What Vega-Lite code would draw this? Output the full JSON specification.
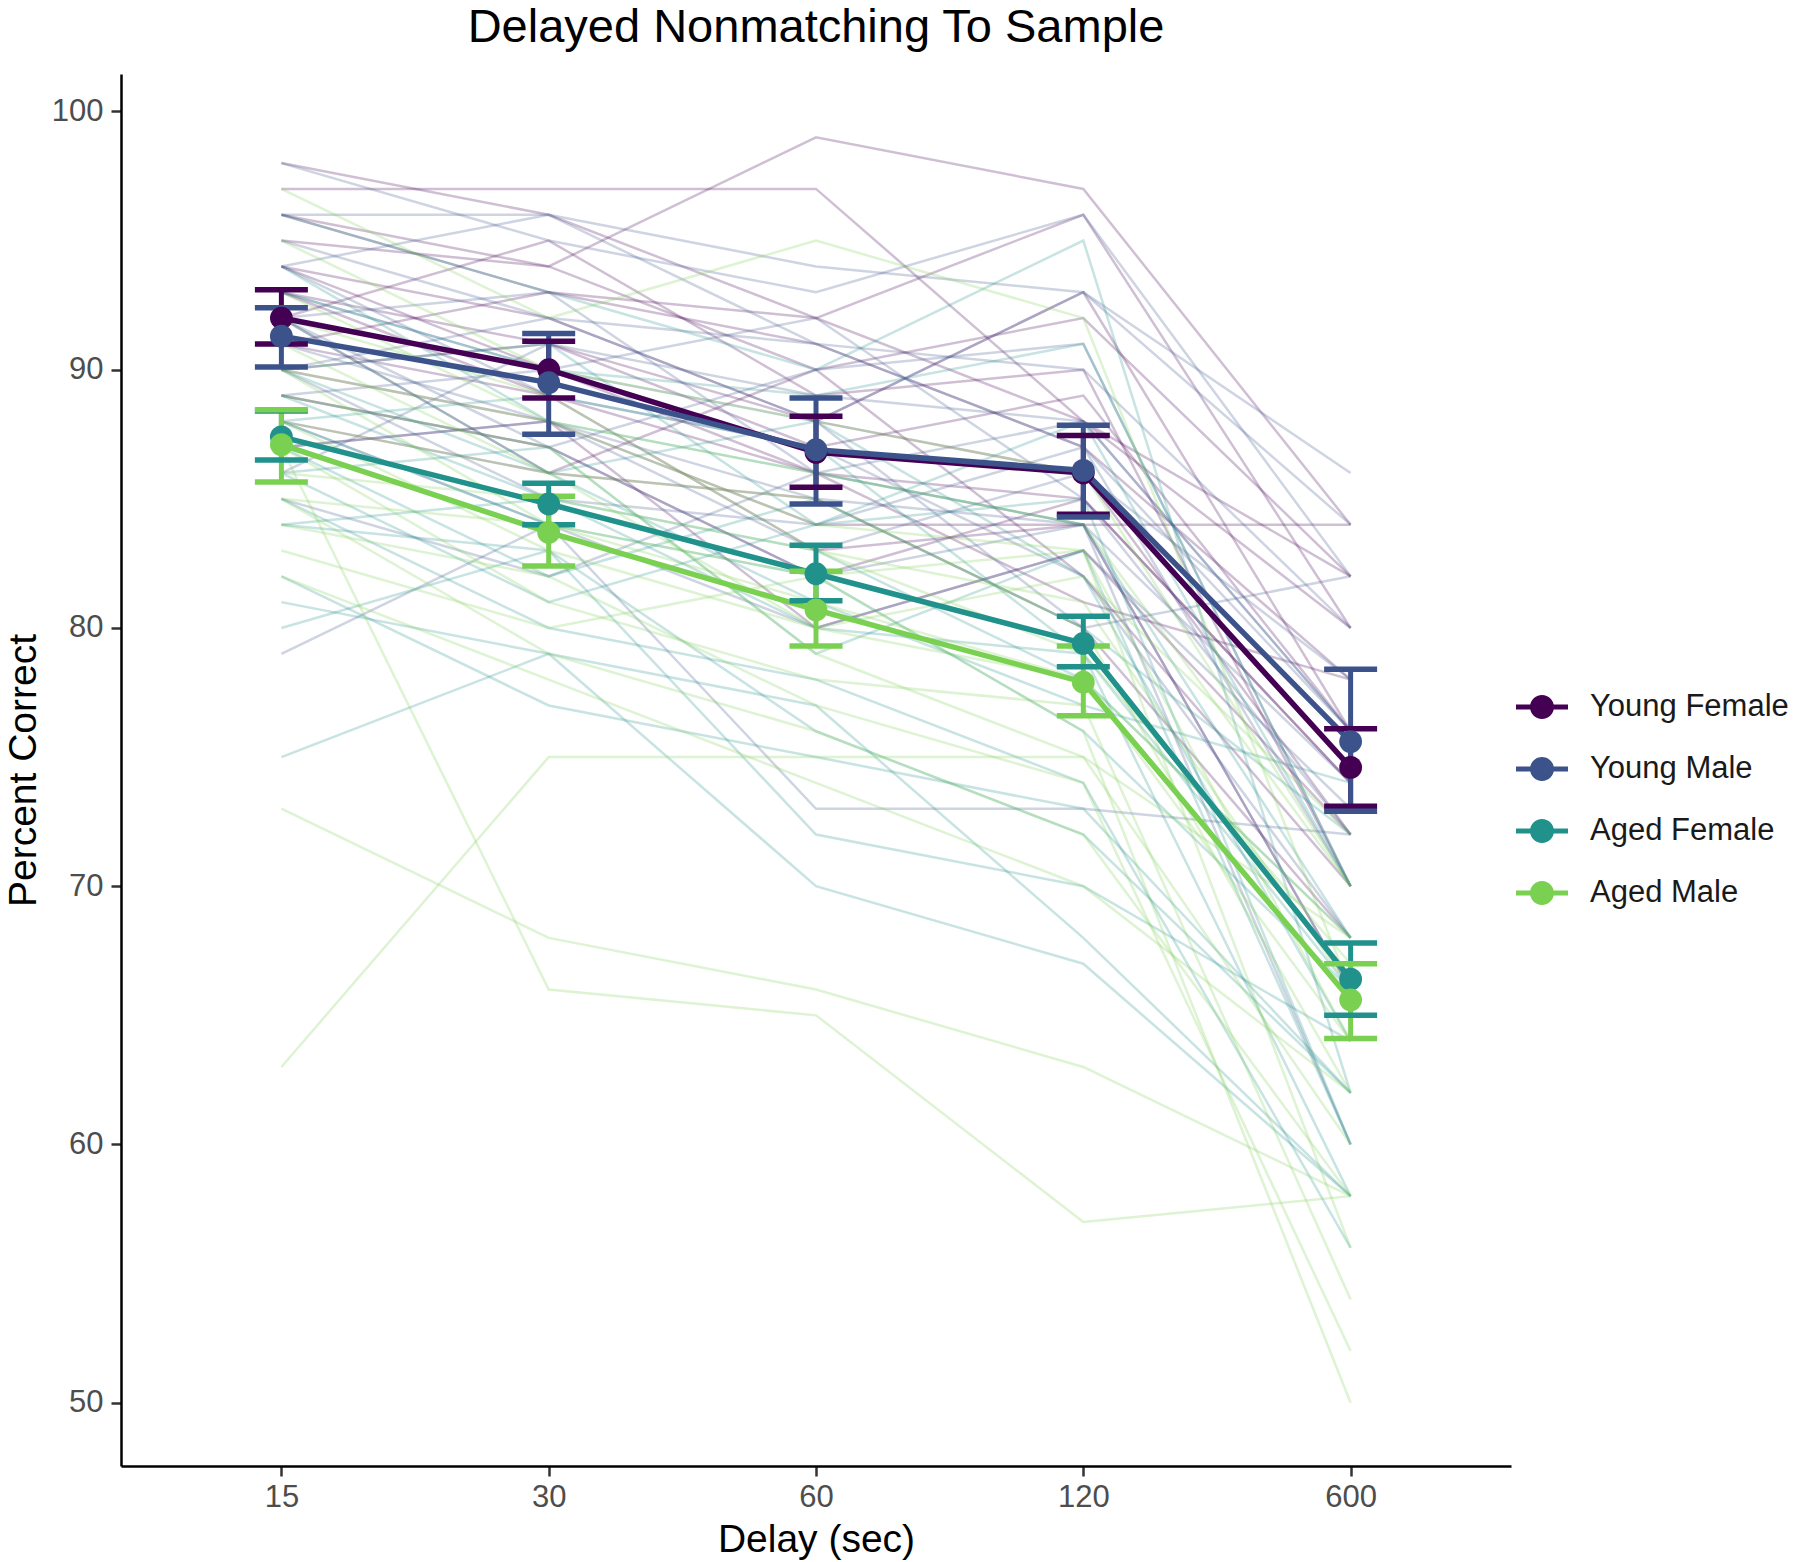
{
  "$schema": "https://vega.github.io/schema/vega-lite/v6.json",
  "width": 1390,
  "height": 1392,
  "padding": {"left": 4, "top": 3, "right": 5, "bottom": 5},
  "background": "white",
  "title": {"text": "Delayed Nonmatching To Sample", "fontSize": 47, "font": "Liberation Sans", "fontWeight": "normal", "color": "#000000", "anchor": "middle", "offset": 22.5},
  "config": {
    "view": {"stroke": null},
    "font": "Liberation Sans",
    "axis": {"grid": false, "domainColor": "#000000", "domainWidth": 2.5, "tickColor": "#333333", "tickWidth": 2.5, "tickSize": 10, "labelFont": "Liberation Sans", "labelFontSize": 31, "labelColor": "#4d4d4d", "titleFont": "Liberation Sans", "titleFontSize": 39, "titleFontWeight": "normal", "titleColor": "#000000"}
  },
  "datasets": {
    "subjects": [
      {"s":"YF1","g":"Young Female","d":"15","v":97},{"s":"YF1","g":"Young Female","d":"30","v":97},{"s":"YF1","g":"Young Female","d":"60","v":97},{"s":"YF1","g":"Young Female","d":"120","v":88},{"s":"YF1","g":"Young Female","d":"600","v":82},
      {"s":"YF2","g":"Young Female","d":"15","v":98},{"s":"YF2","g":"Young Female","d":"30","v":96},{"s":"YF2","g":"Young Female","d":"60","v":92},{"s":"YF2","g":"Young Female","d":"120","v":96},{"s":"YF2","g":"Young Female","d":"600","v":80},
      {"s":"YF3","g":"Young Female","d":"15","v":95},{"s":"YF3","g":"Young Female","d":"30","v":94},{"s":"YF3","g":"Young Female","d":"60","v":99},{"s":"YF3","g":"Young Female","d":"120","v":97},{"s":"YF3","g":"Young Female","d":"600","v":84},
      {"s":"YF4","g":"Young Female","d":"15","v":93},{"s":"YF4","g":"Young Female","d":"30","v":91},{"s":"YF4","g":"Young Female","d":"60","v":88},{"s":"YF4","g":"Young Female","d":"120","v":93},{"s":"YF4","g":"Young Female","d":"600","v":76},
      {"s":"YF5","g":"Young Female","d":"15","v":94},{"s":"YF5","g":"Young Female","d":"30","v":92},{"s":"YF5","g":"Young Female","d":"60","v":88},{"s":"YF5","g":"Young Female","d":"120","v":86},{"s":"YF5","g":"Young Female","d":"600","v":72},
      {"s":"YF6","g":"Young Female","d":"15","v":90},{"s":"YF6","g":"Young Female","d":"30","v":88},{"s":"YF6","g":"Young Female","d":"60","v":84},{"s":"YF6","g":"Young Female","d":"120","v":84},{"s":"YF6","g":"Young Female","d":"600","v":84},
      {"s":"YF7","g":"Young Female","d":"15","v":92},{"s":"YF7","g":"Young Female","d":"30","v":95},{"s":"YF7","g":"Young Female","d":"60","v":89},{"s":"YF7","g":"Young Female","d":"120","v":90},{"s":"YF7","g":"Young Female","d":"600","v":70},
      {"s":"YF8","g":"Young Female","d":"15","v":89},{"s":"YF8","g":"Young Female","d":"30","v":87},{"s":"YF8","g":"Young Female","d":"60","v":82},{"s":"YF8","g":"Young Female","d":"120","v":85},{"s":"YF8","g":"Young Female","d":"600","v":74},
      {"s":"YF9","g":"Young Female","d":"15","v":96},{"s":"YF9","g":"Young Female","d":"30","v":93},{"s":"YF9","g":"Young Female","d":"60","v":91},{"s":"YF9","g":"Young Female","d":"120","v":87},{"s":"YF9","g":"Young Female","d":"600","v":78},
      {"s":"YF10","g":"Young Female","d":"15","v":88},{"s":"YF10","g":"Young Female","d":"30","v":86},{"s":"YF10","g":"Young Female","d":"60","v":85},{"s":"YF10","g":"Young Female","d":"120","v":80},{"s":"YF10","g":"Young Female","d":"600","v":68},
      {"s":"YF11","g":"Young Female","d":"15","v":91},{"s":"YF11","g":"Young Female","d":"30","v":89},{"s":"YF11","g":"Young Female","d":"60","v":83},{"s":"YF11","g":"Young Female","d":"120","v":84},{"s":"YF11","g":"Young Female","d":"600","v":66},
      {"s":"YF12","g":"Young Female","d":"15","v":90},{"s":"YF12","g":"Young Female","d":"30","v":91},{"s":"YF12","g":"Young Female","d":"60","v":87},{"s":"YF12","g":"Young Female","d":"120","v":89},{"s":"YF12","g":"Young Female","d":"600","v":76},
      {"s":"YF13","g":"Young Female","d":"15","v":87},{"s":"YF13","g":"Young Female","d":"30","v":88},{"s":"YF13","g":"Young Female","d":"60","v":80},{"s":"YF13","g":"Young Female","d":"120","v":83},{"s":"YF13","g":"Young Female","d":"600","v":72},
      {"s":"YF14","g":"Young Female","d":"15","v":94},{"s":"YF14","g":"Young Female","d":"30","v":90},{"s":"YF14","g":"Young Female","d":"60","v":86},{"s":"YF14","g":"Young Female","d":"120","v":85},{"s":"YF14","g":"Young Female","d":"600","v":74},
      {"s":"YF15","g":"Young Female","d":"15","v":92},{"s":"YF15","g":"Young Female","d":"30","v":86},{"s":"YF15","g":"Young Female","d":"60","v":90},{"s":"YF15","g":"Young Female","d":"120","v":82},{"s":"YF15","g":"Young Female","d":"600","v":70},
      {"s":"YF16","g":"Young Female","d":"15","v":93},{"s":"YF16","g":"Young Female","d":"30","v":89},{"s":"YF16","g":"Young Female","d":"60","v":86},{"s":"YF16","g":"Young Female","d":"120","v":81},{"s":"YF16","g":"Young Female","d":"600","v":78},
      {"s":"YF17","g":"Young Female","d":"15","v":96},{"s":"YF17","g":"Young Female","d":"30","v":94},{"s":"YF17","g":"Young Female","d":"60","v":90},{"s":"YF17","g":"Young Female","d":"120","v":92},{"s":"YF17","g":"Young Female","d":"600","v":82},
      {"s":"YF18","g":"Young Female","d":"15","v":91},{"s":"YF18","g":"Young Female","d":"30","v":93},{"s":"YF18","g":"Young Female","d":"60","v":92},{"s":"YF18","g":"Young Female","d":"120","v":88},{"s":"YF18","g":"Young Female","d":"600","v":80},
      {"s":"YM1","g":"Young Male","d":"15","v":98},{"s":"YM1","g":"Young Male","d":"30","v":95},{"s":"YM1","g":"Young Male","d":"60","v":93},{"s":"YM1","g":"Young Male","d":"120","v":96},{"s":"YM1","g":"Young Male","d":"600","v":82},
      {"s":"YM2","g":"Young Male","d":"15","v":96},{"s":"YM2","g":"Young Male","d":"30","v":96},{"s":"YM2","g":"Young Male","d":"60","v":94},{"s":"YM2","g":"Young Male","d":"120","v":93},{"s":"YM2","g":"Young Male","d":"600","v":86},
      {"s":"YM3","g":"Young Male","d":"15","v":95},{"s":"YM3","g":"Young Male","d":"30","v":92},{"s":"YM3","g":"Young Male","d":"60","v":91},{"s":"YM3","g":"Young Male","d":"120","v":90},{"s":"YM3","g":"Young Male","d":"600","v":80},
      {"s":"YM4","g":"Young Male","d":"15","v":93},{"s":"YM4","g":"Young Male","d":"30","v":90},{"s":"YM4","g":"Young Male","d":"60","v":88},{"s":"YM4","g":"Young Male","d":"120","v":93},{"s":"YM4","g":"Young Male","d":"600","v":84},
      {"s":"YM5","g":"Young Male","d":"15","v":92},{"s":"YM5","g":"Young Male","d":"30","v":93},{"s":"YM5","g":"Young Male","d":"60","v":86},{"s":"YM5","g":"Young Male","d":"120","v":88},{"s":"YM5","g":"Young Male","d":"600","v":76},
      {"s":"YM6","g":"Young Male","d":"15","v":89},{"s":"YM6","g":"Young Male","d":"30","v":90},{"s":"YM6","g":"Young Male","d":"60","v":92},{"s":"YM6","g":"Young Male","d":"120","v":85},{"s":"YM6","g":"Young Male","d":"600","v":72},
      {"s":"YM7","g":"Young Male","d":"15","v":91},{"s":"YM7","g":"Young Male","d":"30","v":88},{"s":"YM7","g":"Young Male","d":"60","v":85},{"s":"YM7","g":"Young Male","d":"120","v":84},{"s":"YM7","g":"Young Male","d":"600","v":74},
      {"s":"YM8","g":"Young Male","d":"15","v":90},{"s":"YM8","g":"Young Male","d":"30","v":85},{"s":"YM8","g":"Young Male","d":"60","v":84},{"s":"YM8","g":"Young Male","d":"120","v":87},{"s":"YM8","g":"Young Male","d":"600","v":70},
      {"s":"YM9","g":"Young Male","d":"15","v":87},{"s":"YM9","g":"Young Male","d":"30","v":88},{"s":"YM9","g":"Young Male","d":"60","v":83},{"s":"YM9","g":"Young Male","d":"120","v":86},{"s":"YM9","g":"Young Male","d":"600","v":78},
      {"s":"YM10","g":"Young Male","d":"15","v":94},{"s":"YM10","g":"Young Male","d":"30","v":89},{"s":"YM10","g":"Young Male","d":"60","v":87},{"s":"YM10","g":"Young Male","d":"120","v":82},{"s":"YM10","g":"Young Male","d":"600","v":68},
      {"s":"YM11","g":"Young Male","d":"15","v":88},{"s":"YM11","g":"Young Male","d":"30","v":84},{"s":"YM11","g":"Young Male","d":"60","v":80},{"s":"YM11","g":"Young Male","d":"120","v":83},{"s":"YM11","g":"Young Male","d":"600","v":73},
      {"s":"YM12","g":"Young Male","d":"15","v":86},{"s":"YM12","g":"Young Male","d":"30","v":91},{"s":"YM12","g":"Young Male","d":"60","v":89},{"s":"YM12","g":"Young Male","d":"120","v":88},{"s":"YM12","g":"Young Male","d":"600","v":76},
      {"s":"YM13","g":"Young Male","d":"15","v":92},{"s":"YM13","g":"Young Male","d":"30","v":87},{"s":"YM13","g":"Young Male","d":"60","v":82},{"s":"YM13","g":"Young Male","d":"120","v":84},{"s":"YM13","g":"Young Male","d":"600","v":60},
      {"s":"YM14","g":"Young Male","d":"15","v":90},{"s":"YM14","g":"Young Male","d":"30","v":92},{"s":"YM14","g":"Young Male","d":"60","v":88},{"s":"YM14","g":"Young Male","d":"120","v":80},{"s":"YM14","g":"Young Male","d":"600","v":82},
      {"s":"YM15","g":"Young Male","d":"15","v":85},{"s":"YM15","g":"Young Male","d":"30","v":82},{"s":"YM15","g":"Young Male","d":"60","v":86},{"s":"YM15","g":"Young Male","d":"120","v":84},{"s":"YM15","g":"Young Male","d":"600","v":66},
      {"s":"YM16","g":"Young Male","d":"15","v":79},{"s":"YM16","g":"Young Male","d":"30","v":84},{"s":"YM16","g":"Young Male","d":"60","v":73},{"s":"YM16","g":"Young Male","d":"120","v":73},{"s":"YM16","g":"Young Male","d":"600","v":72},
      {"s":"YM17","g":"Young Male","d":"15","v":94},{"s":"YM17","g":"Young Male","d":"30","v":96},{"s":"YM17","g":"Young Male","d":"60","v":91},{"s":"YM17","g":"Young Male","d":"120","v":87},{"s":"YM17","g":"Young Male","d":"600","v":76},
      {"s":"YM18","g":"Young Male","d":"15","v":89},{"s":"YM18","g":"Young Male","d":"30","v":87},{"s":"YM18","g":"Young Male","d":"60","v":90},{"s":"YM18","g":"Young Male","d":"120","v":91},{"s":"YM18","g":"Young Male","d":"600","v":70},
      {"s":"AF1","g":"Aged Female","d":"15","v":96},{"s":"AF1","g":"Aged Female","d":"30","v":93},{"s":"AF1","g":"Aged Female","d":"60","v":90},{"s":"AF1","g":"Aged Female","d":"120","v":95},{"s":"AF1","g":"Aged Female","d":"600","v":62},
      {"s":"AF2","g":"Aged Female","d":"15","v":94},{"s":"AF2","g":"Aged Female","d":"30","v":88},{"s":"AF2","g":"Aged Female","d":"60","v":86},{"s":"AF2","g":"Aged Female","d":"120","v":84},{"s":"AF2","g":"Aged Female","d":"600","v":68},
      {"s":"AF3","g":"Aged Female","d":"15","v":92},{"s":"AF3","g":"Aged Female","d":"30","v":86},{"s":"AF3","g":"Aged Female","d":"60","v":88},{"s":"AF3","g":"Aged Female","d":"120","v":82},{"s":"AF3","g":"Aged Female","d":"600","v":64},
      {"s":"AF4","g":"Aged Female","d":"15","v":90},{"s":"AF4","g":"Aged Female","d":"30","v":91},{"s":"AF4","g":"Aged Female","d":"60","v":84},{"s":"AF4","g":"Aged Female","d":"120","v":88},{"s":"AF4","g":"Aged Female","d":"600","v":70},
      {"s":"AF5","g":"Aged Female","d":"15","v":89},{"s":"AF5","g":"Aged Female","d":"30","v":85},{"s":"AF5","g":"Aged Female","d":"60","v":80},{"s":"AF5","g":"Aged Female","d":"120","v":79},{"s":"AF5","g":"Aged Female","d":"600","v":58},
      {"s":"AF6","g":"Aged Female","d":"15","v":88},{"s":"AF6","g":"Aged Female","d":"30","v":84},{"s":"AF6","g":"Aged Female","d":"60","v":82},{"s":"AF6","g":"Aged Female","d":"120","v":76},{"s":"AF6","g":"Aged Female","d":"600","v":66},
      {"s":"AF7","g":"Aged Female","d":"15","v":87},{"s":"AF7","g":"Aged Female","d":"30","v":82},{"s":"AF7","g":"Aged Female","d":"60","v":85},{"s":"AF7","g":"Aged Female","d":"120","v":80},{"s":"AF7","g":"Aged Female","d":"600","v":72},
      {"s":"AF8","g":"Aged Female","d":"15","v":86},{"s":"AF8","g":"Aged Female","d":"30","v":87},{"s":"AF8","g":"Aged Female","d":"60","v":79},{"s":"AF8","g":"Aged Female","d":"120","v":83},{"s":"AF8","g":"Aged Female","d":"600","v":60},
      {"s":"AF9","g":"Aged Female","d":"15","v":85},{"s":"AF9","g":"Aged Female","d":"30","v":80},{"s":"AF9","g":"Aged Female","d":"60","v":78},{"s":"AF9","g":"Aged Female","d":"120","v":74},{"s":"AF9","g":"Aged Female","d":"600","v":56},
      {"s":"AF10","g":"Aged Female","d":"15","v":84},{"s":"AF10","g":"Aged Female","d":"30","v":85},{"s":"AF10","g":"Aged Female","d":"60","v":83},{"s":"AF10","g":"Aged Female","d":"120","v":78},{"s":"AF10","g":"Aged Female","d":"600","v":68},
      {"s":"AF11","g":"Aged Female","d":"15","v":82},{"s":"AF11","g":"Aged Female","d":"30","v":77},{"s":"AF11","g":"Aged Female","d":"60","v":75},{"s":"AF11","g":"Aged Female","d":"120","v":73},{"s":"AF11","g":"Aged Female","d":"600","v":62},
      {"s":"AF12","g":"Aged Female","d":"15","v":81},{"s":"AF12","g":"Aged Female","d":"30","v":79},{"s":"AF12","g":"Aged Female","d":"60","v":70},{"s":"AF12","g":"Aged Female","d":"120","v":67},{"s":"AF12","g":"Aged Female","d":"600","v":58},
      {"s":"AF13","g":"Aged Female","d":"15","v":80},{"s":"AF13","g":"Aged Female","d":"30","v":83},{"s":"AF13","g":"Aged Female","d":"60","v":72},{"s":"AF13","g":"Aged Female","d":"120","v":70},{"s":"AF13","g":"Aged Female","d":"600","v":64},
      {"s":"AF14","g":"Aged Female","d":"15","v":90},{"s":"AF14","g":"Aged Female","d":"30","v":86},{"s":"AF14","g":"Aged Female","d":"60","v":81},{"s":"AF14","g":"Aged Female","d":"120","v":77},{"s":"AF14","g":"Aged Female","d":"600","v":74},
      {"s":"AF15","g":"Aged Female","d":"15","v":88},{"s":"AF15","g":"Aged Female","d":"30","v":89},{"s":"AF15","g":"Aged Female","d":"60","v":87},{"s":"AF15","g":"Aged Female","d":"120","v":79},{"s":"AF15","g":"Aged Female","d":"600","v":66},
      {"s":"AF16","g":"Aged Female","d":"15","v":75},{"s":"AF16","g":"Aged Female","d":"30","v":79},{"s":"AF16","g":"Aged Female","d":"60","v":77},{"s":"AF16","g":"Aged Female","d":"120","v":68},{"s":"AF16","g":"Aged Female","d":"600","v":58},
      {"s":"AF17","g":"Aged Female","d":"15","v":93},{"s":"AF17","g":"Aged Female","d":"30","v":90},{"s":"AF17","g":"Aged Female","d":"60","v":89},{"s":"AF17","g":"Aged Female","d":"120","v":91},{"s":"AF17","g":"Aged Female","d":"600","v":70},
      {"s":"AF18","g":"Aged Female","d":"15","v":86},{"s":"AF18","g":"Aged Female","d":"30","v":81},{"s":"AF18","g":"Aged Female","d":"60","v":84},{"s":"AF18","g":"Aged Female","d":"120","v":85},{"s":"AF18","g":"Aged Female","d":"600","v":60},
      {"s":"AF19","g":"Aged Female","d":"15","v":84},{"s":"AF19","g":"Aged Female","d":"30","v":83},{"s":"AF19","g":"Aged Female","d":"60","v":76},{"s":"AF19","g":"Aged Female","d":"120","v":72},{"s":"AF19","g":"Aged Female","d":"600","v":62},
      {"s":"AM1","g":"Aged Male","d":"15","v":97},{"s":"AM1","g":"Aged Male","d":"30","v":92},{"s":"AM1","g":"Aged Male","d":"60","v":95},{"s":"AM1","g":"Aged Male","d":"120","v":92},{"s":"AM1","g":"Aged Male","d":"600","v":66},
      {"s":"AM2","g":"Aged Male","d":"15","v":95},{"s":"AM2","g":"Aged Male","d":"30","v":90},{"s":"AM2","g":"Aged Male","d":"60","v":88},{"s":"AM2","g":"Aged Male","d":"120","v":86},{"s":"AM2","g":"Aged Male","d":"600","v":70},
      {"s":"AM3","g":"Aged Male","d":"15","v":93},{"s":"AM3","g":"Aged Male","d":"30","v":88},{"s":"AM3","g":"Aged Male","d":"60","v":84},{"s":"AM3","g":"Aged Male","d":"120","v":83},{"s":"AM3","g":"Aged Male","d":"600","v":64},
      {"s":"AM4","g":"Aged Male","d":"15","v":91},{"s":"AM4","g":"Aged Male","d":"30","v":86},{"s":"AM4","g":"Aged Male","d":"60","v":85},{"s":"AM4","g":"Aged Male","d":"120","v":80},{"s":"AM4","g":"Aged Male","d":"600","v":62},
      {"s":"AM5","g":"Aged Male","d":"15","v":90},{"s":"AM5","g":"Aged Male","d":"30","v":84},{"s":"AM5","g":"Aged Male","d":"60","v":81},{"s":"AM5","g":"Aged Male","d":"120","v":78},{"s":"AM5","g":"Aged Male","d":"600","v":68},
      {"s":"AM6","g":"Aged Male","d":"15","v":89},{"s":"AM6","g":"Aged Male","d":"30","v":87},{"s":"AM6","g":"Aged Male","d":"60","v":79},{"s":"AM6","g":"Aged Male","d":"120","v":75},{"s":"AM6","g":"Aged Male","d":"600","v":60},
      {"s":"AM7","g":"Aged Male","d":"15","v":88},{"s":"AM7","g":"Aged Male","d":"30","v":83},{"s":"AM7","g":"Aged Male","d":"60","v":80},{"s":"AM7","g":"Aged Male","d":"120","v":82},{"s":"AM7","g":"Aged Male","d":"600","v":72},
      {"s":"AM8","g":"Aged Male","d":"15","v":87},{"s":"AM8","g":"Aged Male","d":"30","v":81},{"s":"AM8","g":"Aged Male","d":"60","v":78},{"s":"AM8","g":"Aged Male","d":"120","v":77},{"s":"AM8","g":"Aged Male","d":"600","v":54},
      {"s":"AM9","g":"Aged Male","d":"15","v":86},{"s":"AM9","g":"Aged Male","d":"30","v":85},{"s":"AM9","g":"Aged Male","d":"60","v":83},{"s":"AM9","g":"Aged Male","d":"120","v":79},{"s":"AM9","g":"Aged Male","d":"600","v":67},
      {"s":"AM10","g":"Aged Male","d":"15","v":85},{"s":"AM10","g":"Aged Male","d":"30","v":79},{"s":"AM10","g":"Aged Male","d":"60","v":76},{"s":"AM10","g":"Aged Male","d":"120","v":72},{"s":"AM10","g":"Aged Male","d":"600","v":58},
      {"s":"AM11","g":"Aged Male","d":"15","v":84},{"s":"AM11","g":"Aged Male","d":"30","v":82},{"s":"AM11","g":"Aged Male","d":"60","v":77},{"s":"AM11","g":"Aged Male","d":"120","v":74},{"s":"AM11","g":"Aged Male","d":"600","v":52},
      {"s":"AM12","g":"Aged Male","d":"15","v":83},{"s":"AM12","g":"Aged Male","d":"30","v":80},{"s":"AM12","g":"Aged Male","d":"60","v":82},{"s":"AM12","g":"Aged Male","d":"120","v":76},{"s":"AM12","g":"Aged Male","d":"600","v":50},
      {"s":"AM13","g":"Aged Male","d":"15","v":82},{"s":"AM13","g":"Aged Male","d":"30","v":78},{"s":"AM13","g":"Aged Male","d":"60","v":74},{"s":"AM13","g":"Aged Male","d":"120","v":70},{"s":"AM13","g":"Aged Male","d":"600","v":62},
      {"s":"AM14","g":"Aged Male","d":"15","v":73},{"s":"AM14","g":"Aged Male","d":"30","v":68},{"s":"AM14","g":"Aged Male","d":"60","v":66},{"s":"AM14","g":"Aged Male","d":"120","v":63},{"s":"AM14","g":"Aged Male","d":"600","v":58},
      {"s":"AM15","g":"Aged Male","d":"15","v":63},{"s":"AM15","g":"Aged Male","d":"30","v":75},{"s":"AM15","g":"Aged Male","d":"60","v":75},{"s":"AM15","g":"Aged Male","d":"120","v":75},{"s":"AM15","g":"Aged Male","d":"600","v":68},
      {"s":"AM16","g":"Aged Male","d":"15","v":87},{"s":"AM16","g":"Aged Male","d":"30","v":66},{"s":"AM16","g":"Aged Male","d":"60","v":65},{"s":"AM16","g":"Aged Male","d":"120","v":57},{"s":"AM16","g":"Aged Male","d":"600","v":58},
      {"s":"AM17","g":"Aged Male","d":"15","v":90},{"s":"AM17","g":"Aged Male","d":"30","v":88},{"s":"AM17","g":"Aged Male","d":"60","v":86},{"s":"AM17","g":"Aged Male","d":"120","v":84},{"s":"AM17","g":"Aged Male","d":"600","v":70},
      {"s":"AM18","g":"Aged Male","d":"15","v":92},{"s":"AM18","g":"Aged Male","d":"30","v":89},{"s":"AM18","g":"Aged Male","d":"60","v":83},{"s":"AM18","g":"Aged Male","d":"120","v":81},{"s":"AM18","g":"Aged Male","d":"600","v":66},
      {"s":"AM19","g":"Aged Male","d":"15","v":88},{"s":"AM19","g":"Aged Male","d":"30","v":86},{"s":"AM19","g":"Aged Male","d":"60","v":80},{"s":"AM19","g":"Aged Male","d":"120","v":78},{"s":"AM19","g":"Aged Male","d":"600","v":64},
      {"s":"AM20","g":"Aged Male","d":"15","v":85},{"s":"AM20","g":"Aged Male","d":"30","v":84},{"s":"AM20","g":"Aged Male","d":"60","v":82},{"s":"AM20","g":"Aged Male","d":"120","v":83},{"s":"AM20","g":"Aged Male","d":"600","v":56}
    ],
    "summary": [
      {"g":"Young Female","d":"15","m":92.0,"lo":91.0,"hi":93.1},
      {"g":"Young Female","d":"30","m":90.0,"lo":88.9,"hi":91.1},
      {"g":"Young Female","d":"60","m":86.8,"lo":85.45,"hi":88.2},
      {"g":"Young Female","d":"120","m":86.0,"lo":84.4,"hi":87.45},
      {"g":"Young Female","d":"600","m":74.6,"lo":73.1,"hi":76.1},
      {"g":"Young Male","d":"15","m":91.3,"lo":90.1,"hi":92.4},
      {"g":"Young Male","d":"30","m":89.5,"lo":87.5,"hi":91.4},
      {"g":"Young Male","d":"60","m":86.9,"lo":84.8,"hi":88.9},
      {"g":"Young Male","d":"120","m":86.1,"lo":84.3,"hi":87.85},
      {"g":"Young Male","d":"600","m":75.6,"lo":72.9,"hi":78.4},
      {"g":"Aged Female","d":"15","m":87.4,"lo":86.5,"hi":88.4},
      {"g":"Aged Female","d":"30","m":84.8,"lo":84.0,"hi":85.6},
      {"g":"Aged Female","d":"60","m":82.1,"lo":81.05,"hi":83.2},
      {"g":"Aged Female","d":"120","m":79.4,"lo":78.5,"hi":80.45},
      {"g":"Aged Female","d":"600","m":66.4,"lo":65.0,"hi":67.8},
      {"g":"Aged Male","d":"15","m":87.1,"lo":85.65,"hi":88.45},
      {"g":"Aged Male","d":"30","m":83.7,"lo":82.4,"hi":85.1},
      {"g":"Aged Male","d":"60","m":80.7,"lo":79.3,"hi":82.2},
      {"g":"Aged Male","d":"120","m":77.9,"lo":76.6,"hi":79.3},
      {"g":"Aged Male","d":"600","m":65.6,"lo":64.1,"hi":67.0}
    ]
  },
  "encoding": {
    "x": {"field": "d", "type": "nominal", "sort": ["15","30","60","120","600"], "scale": {"type": "point", "domain": ["15","30","60","120","600"], "padding": 0.6}, "axis": {"title": "Delay (sec)", "labelAngle": 0, "labelPadding": 6, "titlePadding": 8}}
  },
  "layer": [
    {
      "data": {"name": "subjects"},
      "mark": {"type": "line", "strokeWidth": 2.5, "opacity": 0.25},
      "encoding": {
        "y": {"field": "v", "type": "quantitative", "scale": {"domain": [47.55, 101.45], "nice": false, "zero": false}, "axis": {"title": "Percent Correct", "values": [50,60,70,80,90,100], "labelPadding": 8, "titlePadding": 7.5}},
        "color": {"field": "g", "type": "nominal"},
        "detail": {"field": "s", "type": "nominal"}
      }
    },
    {
      "data": {"name": "summary"},
      "mark": {"type": "line", "strokeWidth": 5.5},
      "encoding": {
        "y": {"field": "m", "type": "quantitative"},
        "color": {"field": "g", "type": "nominal"}
      }
    },
    {
      "data": {"name": "summary"},
      "mark": {"type": "rule", "strokeWidth": 5},
      "encoding": {
        "y": {"field": "lo", "type": "quantitative"},
        "y2": {"field": "hi"},
        "color": {"field": "g", "type": "nominal"}
      }
    },
    {
      "data": {"name": "summary"},
      "mark": {"type": "tick", "size": 53, "thickness": 5.5, "opacity": 1, "orient": "horizontal"},
      "encoding": {
        "y": {"field": "lo", "type": "quantitative"},
        "color": {"field": "g", "type": "nominal"}
      }
    },
    {
      "data": {"name": "summary"},
      "mark": {"type": "tick", "size": 53, "thickness": 5.5, "opacity": 1, "orient": "horizontal"},
      "encoding": {
        "y": {"field": "hi", "type": "quantitative"},
        "color": {"field": "g", "type": "nominal"}
      }
    },
    {
      "data": {"name": "summary"},
      "mark": {"type": "point", "filled": true, "shape": "circle", "size": 520, "opacity": 1},
      "encoding": {
        "y": {"field": "m", "type": "quantitative"},
        "color": {
          "field": "g", "type": "nominal",
          "scale": {"domain": ["Young Female","Young Male","Aged Female","Aged Male"], "range": ["#440154","#3B528B","#21918C","#7AD151"]},
          "legend": {
            "title": null,
            "orient": "none",
            "legendX": 1395,
            "legendY": 607,
            "padding": 0,
            "symbolType": "M -1 -0.1 L 1 -0.1 L 1 0.1 L -1 0.1 Z M -0.46 0 A 0.46 0.46 0 1 1 0.46 0 A 0.46 0.46 0 1 1 -0.46 0 Z",
            "symbolSize": 2704,
            "symbolStrokeWidth": 0,
            "symbolOpacity": 1,
            "labelFontSize": 31,
            "labelFont": "Liberation Sans",
            "labelColor": "#1a1a1a",
            "labelOffset": 22,
            "rowPadding": 21,
            "labelLimit": 400,
            "encode": {"symbols": {"update": {"fill": {"scale": "color", "field": "value"}, "stroke": {"value": "transparent"}, "opacity": {"value": 1}}}}
          }
        }
      }
    }
  ]
}
